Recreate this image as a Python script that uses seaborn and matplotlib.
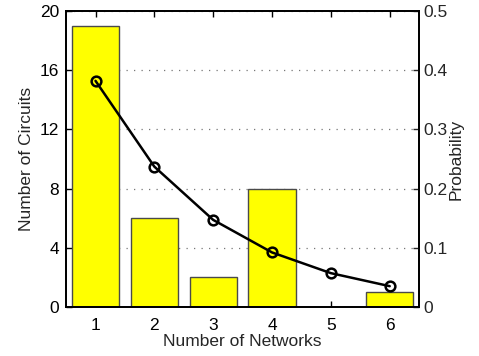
import numpy as np
import pandas as pd
import seaborn as sns
import matplotlib
matplotlib.use("Agg")
import matplotlib.pyplot as plt

networks = [1, 2, 3, 4, 5, 6]
circuits = [19, 6, 2, 8, 0, 1]
probability = [0.382, 0.237, 0.147, 0.092, 0.057, 0.035]

df = pd.DataFrame({"networks": networks, "circuits": circuits, "prob": probability})

sns.set_style("white")
plt.rcParams['font.family'] = ['Liberation Sans', 'DejaVu Sans']
plt.rcParams['font.size'] = 12.5

fig, ax = plt.subplots(figsize=(4.79, 3.56), dpi=100)
fig.subplots_adjust(left=0.138, right=0.875, top=0.969, bottom=0.138)

sns.barplot(data=df, x="networks", y="circuits", native_scale=True, width=0.8,
            color="#ffff00", saturation=1, edgecolor="#4a4a4a", linewidth=1, ax=ax)
ax.set_xlim(0.5, 6.5)
ax.set_ylim(0, 20)
ax.set_yticks([0, 4, 8, 12, 16, 20])
ax.set_xticks(networks)
# dotted grid sits behind the bars
ax.yaxis.grid(True, linestyle=(0, (1, 5)), color="#777777", linewidth=0.9)
ax.set_axisbelow(True)
ax.set_xlabel("Number of Networks", labelpad=1)
ax.set_ylabel("Number of Circuits", labelpad=4)
ax.tick_params(axis="x", pad=8)
ax.tick_params(direction="in", length=4, top=True, bottom=True, left=True, right=False,
               width=1, colors="black")
ax.tick_params(axis="y", pad=5)

ax2 = ax.twinx()
sns.lineplot(data=df, x="networks", y="prob", color="black", linewidth=1.8,
             marker="o", markersize=7, markerfacecolor="none", markeredgecolor="black",
             markeredgewidth=1.8, ax=ax2)
ax2.set_ylim(0, 0.5)
ax2.set_yticks([0, 0.1, 0.2, 0.3, 0.4, 0.5])
ax2.set_yticklabels(["0", "0.1", "0.2", "0.3", "0.4", "0.5"])
ax2.set_ylabel("Probability", labelpad=1)
ax2.tick_params(direction="in", length=4, right=True, width=1, pad=3)
ax2.set_xlim(0.5, 6.5)

for a in (ax, ax2):
    for s in a.spines.values():
        s.set_color("black")
        s.set_linewidth(1.3)

fig.savefig("out.png", dpi=100)
